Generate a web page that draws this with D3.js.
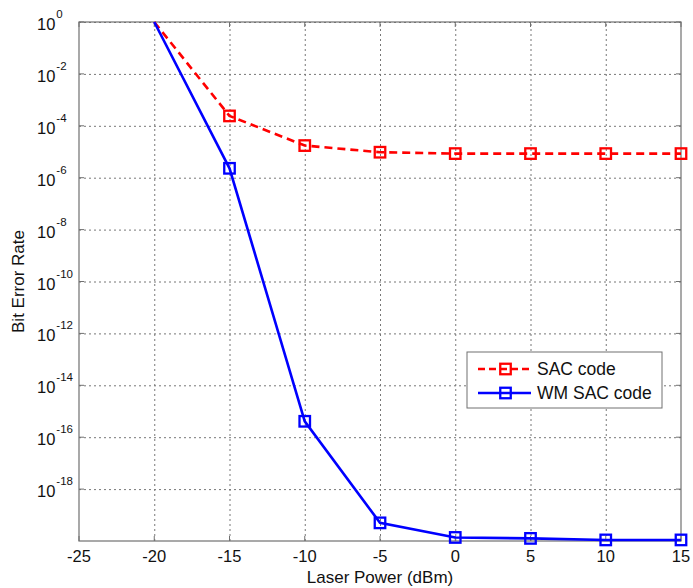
<!DOCTYPE html>
<html>
<head>
<meta charset="utf-8">
<script src="https://cdn.jsdelivr.net/npm/d3@7"></script>
<style>
  body { margin: 0; background: #fff; }
  svg { display: block; font-family: "Liberation Sans", Arial, sans-serif; }
</style>
</head>
<body>
<svg id="chart" width="693" height="588"></svg>
<script>
const laserPower = [-20, -15, -10, -5, 0, 5, 10, 15];
const sacCode = [1, 2.4e-4, 1.73e-5, 9.6e-6, 8.5e-6, 8.5e-6, 8.5e-6, 8.5e-6];
const wmSacCode = [1, 2.3e-6, 4.1e-16, 5.0e-20, 1.37e-20, 1.26e-20, 1.1e-20, 1.1e-20];
const xTicks = [-25, -20, -15, -10, -5, 0, 5, 10, 15];
const yTickExponents = [0, -2, -4, -6, -8, -10, -12, -14, -16, -18];
const seriesNames = ["SAC code", "WM SAC code"];

(function () {
const svg = d3.select("#chart");
const pL = 79, pR = 681, pT = 22, pB = 541;
const W = pR - pL, H = pB - pT;

const x = d3.scaleLinear().domain([-25, 15]).range([pL, pR]);
const y = d3.scaleLog().domain([1e-20, 1]).range([pB, pT]);

const gridColor = "#777";
const axisColor = "#707070";

// vertical grid
svg.append("g")
  .attr("transform", `translate(0,${pB})`)
  .call(d3.axisBottom(x).tickValues(xTicks.filter(v => v > -25 && v < 15)).tickSize(-H).tickFormat(""))
  .call(g => g.select(".domain").remove())
  .call(g => g.selectAll("line").attr("stroke", gridColor).attr("stroke-dasharray", "2,3"));

// horizontal grid
svg.append("g")
  .attr("transform", `translate(${pL},0)`)
  .call(d3.axisLeft(y).tickValues(yTickExponents.map(e => Math.pow(10, e))).tickSize(-W).tickFormat(""))
  .call(g => g.select(".domain").remove())
  .call(g => g.selectAll("line").attr("stroke", gridColor).attr("stroke-dasharray", "2,3"));

// box
svg.append("rect").attr("x", pL).attr("y", pT).attr("width", W).attr("height", H)
  .attr("fill", "none").attr("stroke", axisColor).attr("stroke-width", 1.2);

// inward ticks
const tickLen = 5;
const xt = svg.append("g");
xTicks.forEach(v => {
  xt.append("line").attr("x1", x(v)).attr("x2", x(v)).attr("y1", pB).attr("y2", pB - tickLen).attr("stroke", axisColor);
  xt.append("line").attr("x1", x(v)).attr("x2", x(v)).attr("y1", pT).attr("y2", pT + tickLen).attr("stroke", axisColor);
});
yTickExponents.forEach(e => {
  const yy = y(Math.pow(10, e));
  xt.append("line").attr("x1", pL).attr("x2", pL + tickLen).attr("y1", yy).attr("y2", yy).attr("stroke", axisColor);
  xt.append("line").attr("x1", pR).attr("x2", pR - tickLen).attr("y1", yy).attr("y2", yy).attr("stroke", axisColor);
});

// x tick labels
svg.append("g").selectAll("text").data(xTicks).join("text")
  .attr("x", d => x(d)).attr("y", 562)
  .attr("text-anchor", "middle").attr("font-size", 16.5).attr("fill", "#111")
  .text(d => d);

// y tick labels
const yl = svg.append("g").selectAll("text").data(yTickExponents).join("text")
  .attr("x", 37).attr("y", d => y(Math.pow(10, d)) + 8)
  .attr("font-size", 16.5).attr("fill", "#111");
yl.append("tspan").text("10");
yl.append("tspan").attr("dy", -12).attr("font-size", 11.5).attr("dx", 1).text(d => d);

// axis labels
svg.append("text").attr("x", (pL + pR) / 2).attr("y", 583)
  .attr("text-anchor", "middle").attr("font-size", 17).attr("fill", "#111")
  .text("Laser Power (dBm)");
svg.append("text").attr("transform", `translate(24,${(pT + pB) / 2}) rotate(-90)`)
  .attr("text-anchor", "middle").attr("font-size", 17).attr("fill", "#111")
  .text("Bit Error Rate");

// lines
const line = d3.line().x(d => x(d[0])).y(d => y(d[1]));
const sacData = laserPower.map((p, i) => [p, sacCode[i]]);
const wmData = laserPower.map((p, i) => [p, wmSacCode[i]]);

const series = [
  { name: seriesNames[0], data: sacData, color: "#ff0000", dash: "8,5" },
  { name: seriesNames[1], data: wmData, color: "#0000ff", dash: null }
];

const mk = 10.5;
series.forEach(s => {
  svg.append("path").datum(s.data).attr("d", line)
    .attr("fill", "none").attr("stroke", s.color).attr("stroke-width", 2.6)
    .attr("stroke-dasharray", s.dash);
  svg.append("g").selectAll("rect").data(s.data.slice(1)).join("rect")
    .attr("x", d => x(d[0]) - mk / 2).attr("y", d => y(d[1]) - mk / 2)
    .attr("width", mk).attr("height", mk)
    .attr("fill", "none").attr("stroke", s.color).attr("stroke-width", 2.3);
});

// legend
const lg = svg.append("g");
lg.append("rect").attr("x", 467).attr("y", 352).attr("width", 195).attr("height", 56)
  .attr("fill", "#fff").attr("stroke", axisColor).attr("stroke-width", 1);
series.forEach((s, i) => {
  const ly = 369 + i * 24;
  lg.append("line").attr("x1", 478).attr("x2", 531).attr("y1", ly).attr("y2", ly)
    .attr("stroke", s.color).attr("stroke-width", 2.6).attr("stroke-dasharray", s.dash ? "7,4" : null);
  lg.append("rect").attr("x", 505.5 - 5.25).attr("y", ly - 5.25).attr("width", 10.5).attr("height", 10.5)
    .attr("fill", "none").attr("stroke", s.color).attr("stroke-width", 2.3);
  lg.append("text").attr("x", 537).attr("y", ly + 6).attr("font-size", 17.5).attr("fill", "#111").text(s.name);
});
})();
</script>
</body>
</html>
